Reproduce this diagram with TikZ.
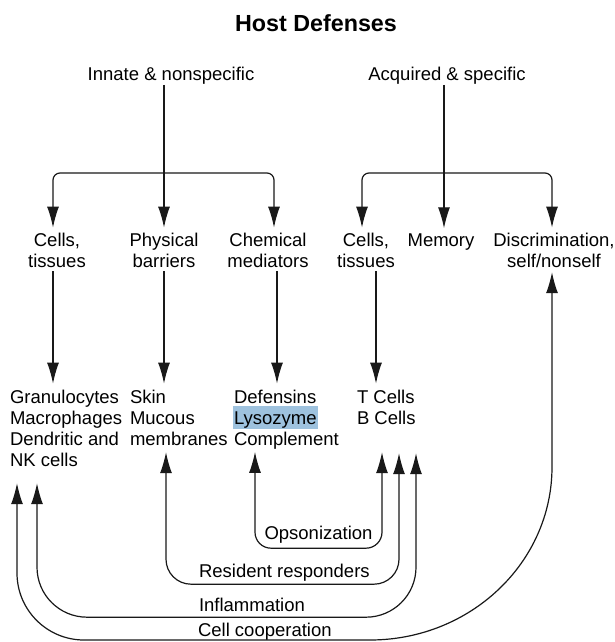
\documentclass[tikz,border=0pt]{standalone}
\usepackage{fontspec}
\setmainfont{Liberation Sans}
\usetikzlibrary{arrows.meta,calc}
\definecolor{hl}{RGB}{158,194,222}
\definecolor{ln}{RGB}{25,25,25}
\begin{document}
\begin{tikzpicture}[x=1pt,y=-1pt,
  lbl/.style={inner sep=0pt, outer sep=0pt, anchor=base, font=\fontsize{18.5}{21}\selectfont},
  lbltwo/.style={lbl, align=center},
  lblthree/.style={lbl, align=left, anchor=base west},
  ttl/.style={inner sep=0pt, outer sep=0pt, anchor=base, font=\bfseries\fontsize{23.3}{26}\selectfont},
  arr/.style={-{Latex[length=21pt,width=12pt]}, line width=1.2pt, draw=ln},
  dbl/.style={{Latex[length=21pt,width=12pt]}-{Latex[length=21pt,width=12pt]}, line width=1.2pt, draw=ln},
  dn/.style={arr, shorten <=4pt, shorten >=6pt}]
\fill[white] (0,0) rectangle (614,642);
\useasboundingbox (0,0) rectangle (614,642);

% texts (base anchor = baseline of the last line)
\node[ttl] (title) at (316,32) {Host Defenses};
\node[lbl] (innate) at (171,81) {Innate \& nonspecific};
\node[lbl] (acq) at (447,81) {Acquired \& specific};
\node[lbltwo] (cellsA) at (57,267) {Cells,\\tissues};
\node[lbltwo] (phys) at (164,267) {Physical\\barriers};
\node[lbltwo] (chem) at (268,267) {Chemical\\mediators};
\node[lbltwo] (cellsB) at (366,267) {Cells,\\tissues};
\node[lbl] (memory) at (441,246) {Memory};
\node[lbltwo] (discr) at (554,267) {Discrimination,\\self/nonself};
\node[lblthree] (gran) at (10,466) {Granulocytes\\Macrophages\\Dendritic and\\NK cells};
\node[lblthree] (skin) at (130,445) {Skin\\Mucous\\membranes};
\node[lblthree] (def) at (234,445) {Defensins\\\smash{\hspace*{-1pt}{\setlength{\fboxsep}{1pt}\colorbox{hl}{\rule[-3.5pt]{0pt}{21pt}Lysozyme}}}\\Complement};
\node[lblthree] (tcells) at (357,424) {T Cells\\B Cells};
\node[lbl] (ops) at (318.5,539) {Opsonization};
\node[lbl, anchor=base west] (res) at (199,577) {Resident responders};
\node[lbl, anchor=base west] (inf) at (199,611) {Inflammation};
\node[lbl, anchor=base west] (coop) at (198,636) {Cell cooperation};

% helper coordinates
\coordinate (brA) at (0,173);
\coordinate (a1) at ([xshift=-4pt]cellsA.north);
\coordinate (a2) at ([xshift=6pt]chem.north);
\coordinate (b1) at ([xshift=-4pt]cellsB.north);
\coordinate (b2) at ([xshift=-2pt]discr.north);
\coordinate (aq) at ([xshift=-3pt]acq.south);
\coordinate (dA) at ([xshift=-4pt]cellsA.south);
\coordinate (dC) at ([xshift=9pt]chem.south);
\coordinate (dB) at ([xshift=10pt]cellsB.south);

% top level
\draw[arr, shorten >=5pt] (innate.south -| phys.north) -- (phys.north);
\draw[dbl, rounded corners=7pt, shorten <=5pt, shorten >=5pt] (a1) -- (a1 |- brA) -- (a2 |- brA) -- (a2);
\draw[arr, shorten >=5pt] (aq) -- (aq |- memory.north);
\draw[dbl, rounded corners=7pt, shorten <=5pt, shorten >=5pt] (b1) -- (b1 |- brA) -- (b2 |- brA) -- (b2);

% second level down
\draw[dn] (dA) -- (dA |- gran.north);
\draw[dn] (phys.south) -- (phys.south |- skin.north);
\draw[dn] (dC) -- (dC |- def.north);
\draw[dn] (dB) -- (dB |- tcells.north);

% bottom loops
\draw[dbl, rounded corners=16pt] ([shift={(21,3)}]def.south west) |- ([shift={(25,124)}]tcells.south west) -- ([shift={(25,28)}]tcells.south west);
\draw[dbl, rounded corners=25pt] ([shift={(36,7)}]skin.south west) |- ([shift={(42,160)}]tcells.south west) -- ([shift={(42,29)}]tcells.south west);
\draw[dbl, rounded corners=50pt] ([shift={(27,17)}]gran.south west) |- ([shift={(59,193)}]tcells.south west) -- ([shift={(59,29)}]tcells.south west);
\draw[dbl] ([shift={(7,17)}]gran.south west) -- (17,573) .. controls (17,610) and (47,640) .. (84,640) -- (370,640) .. controls (470.5,640) and (552,562.5) .. (552,467) -- ([shift={(-2,5)}]discr.south);
\end{tikzpicture}
\end{document}
